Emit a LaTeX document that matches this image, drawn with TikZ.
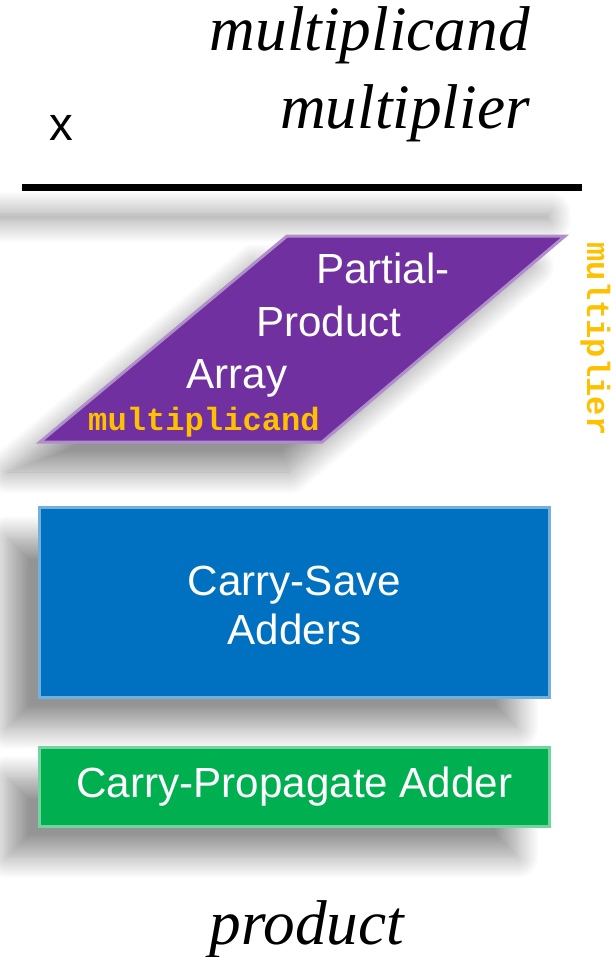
\documentclass[tikz,border=0pt]{standalone}
\usepackage{xcolor}
\usepackage{fontspec}
\setmainfont{Liberation Serif}
\setsansfont{Liberation Sans}
\setmonofont{Liberation Mono}
\usepackage{tikz}
\usetikzlibrary{positioning, shadows.blur}
\definecolor{ppapurple}{HTML}{7030A0}
\definecolor{csablue}{HTML}{0070C0}
\definecolor{cpagreen}{HTML}{00B050}
\definecolor{sigyellow}{HTML}{FFC000}
\tikzstyle{drop}     = [blur shadow={shadow xshift=-0.65cm, shadow yshift=-0.6cm, shadow blur radius=0.45cm, shadow blur steps=18, shadow opacity=42}]
\tikzstyle{operand}  = [font=\fontsize{36}{40}\selectfont\itshape, inner sep=0pt]
\tikzstyle{label}    = [font=\sffamily\fontsize{24}{28}\selectfont, text=white, align=center, inner sep=0pt]
\tikzstyle{signal}   = [font=\ttfamily\bfseries\fontsize{18.3}{20}\selectfont, text=sigyellow, inner sep=0pt]
\tikzstyle{block}    = [rectangle, minimum width=10.2cm, inner sep=0pt, outer sep=0pt, line width=0.06cm, drop]

\begin{document}
\begin{tikzpicture}[x=0.02cm, y=-0.02cm]
    \useasboundingbox (0,0) rectangle (612,957);

    % operands and the rule under them
    \node (mcand) [operand, anchor=base east] at (530,50)  {multiplicand};
    \node (mplier)[operand, anchor=base east] at (530,128) {multiplier};
    \node (times) [font=\sffamily\fontsize{27}{30}\selectfont, inner sep=0pt, anchor=base] at (61,140) {x};
    \node (rule)  [rectangle, fill=black, minimum width=11.2cm, minimum height=0.14cm, inner sep=0pt, drop] at (302,187) {};

    % partial-product array
    \coordinate (ppa-bl) at (40,442);
    \coordinate (ppa-br) at (322,442);
    \coordinate (ppa-tr) at (565,236);
    \coordinate (ppa-tl) at (287,236);
    \fill [ppapurple, drop] (ppa-bl) -- (ppa-br) -- (ppa-tr) -- (ppa-tl) -- cycle;
    \draw [ppapurple!55!white, line width=0.06cm, line join=miter]
        (ppa-bl) -- (ppa-br) -- (ppa-tr) -- (ppa-tl) -- cycle;
    \node (ppa1) [label, anchor=base] at (383,283) {Partial-};
    \node (ppa2) [label, anchor=base] at (329,336) {Product};
    \node (ppa3) [label, anchor=base] at (237,388) {Array};
    \node (mcandin) [signal, anchor=base] at (204,430) {multiplicand};
    \node (mplierin)[signal, anchor=base, rotate=-90] at (587,339) {multiplier};

    % adder stages
    \node (csa) [block, minimum height=3.8cm, fill=csablue, draw=csablue!55!white] at (294.5,602.5) {};
    \node (csatext) [label, yshift=-0.06cm] at (csa) {Carry-Save\\Adders};
    \node (cpa) [block, minimum height=1.58cm, below=1cm of csa, fill=cpagreen, draw=cpagreen!55!white] {};
    \node (cpatext) [label] at (cpa) {Carry-Propagate Adder};

    \node (prod) [operand, anchor=base] at (307,944) {product};
  \end{tikzpicture}
\end{document}
